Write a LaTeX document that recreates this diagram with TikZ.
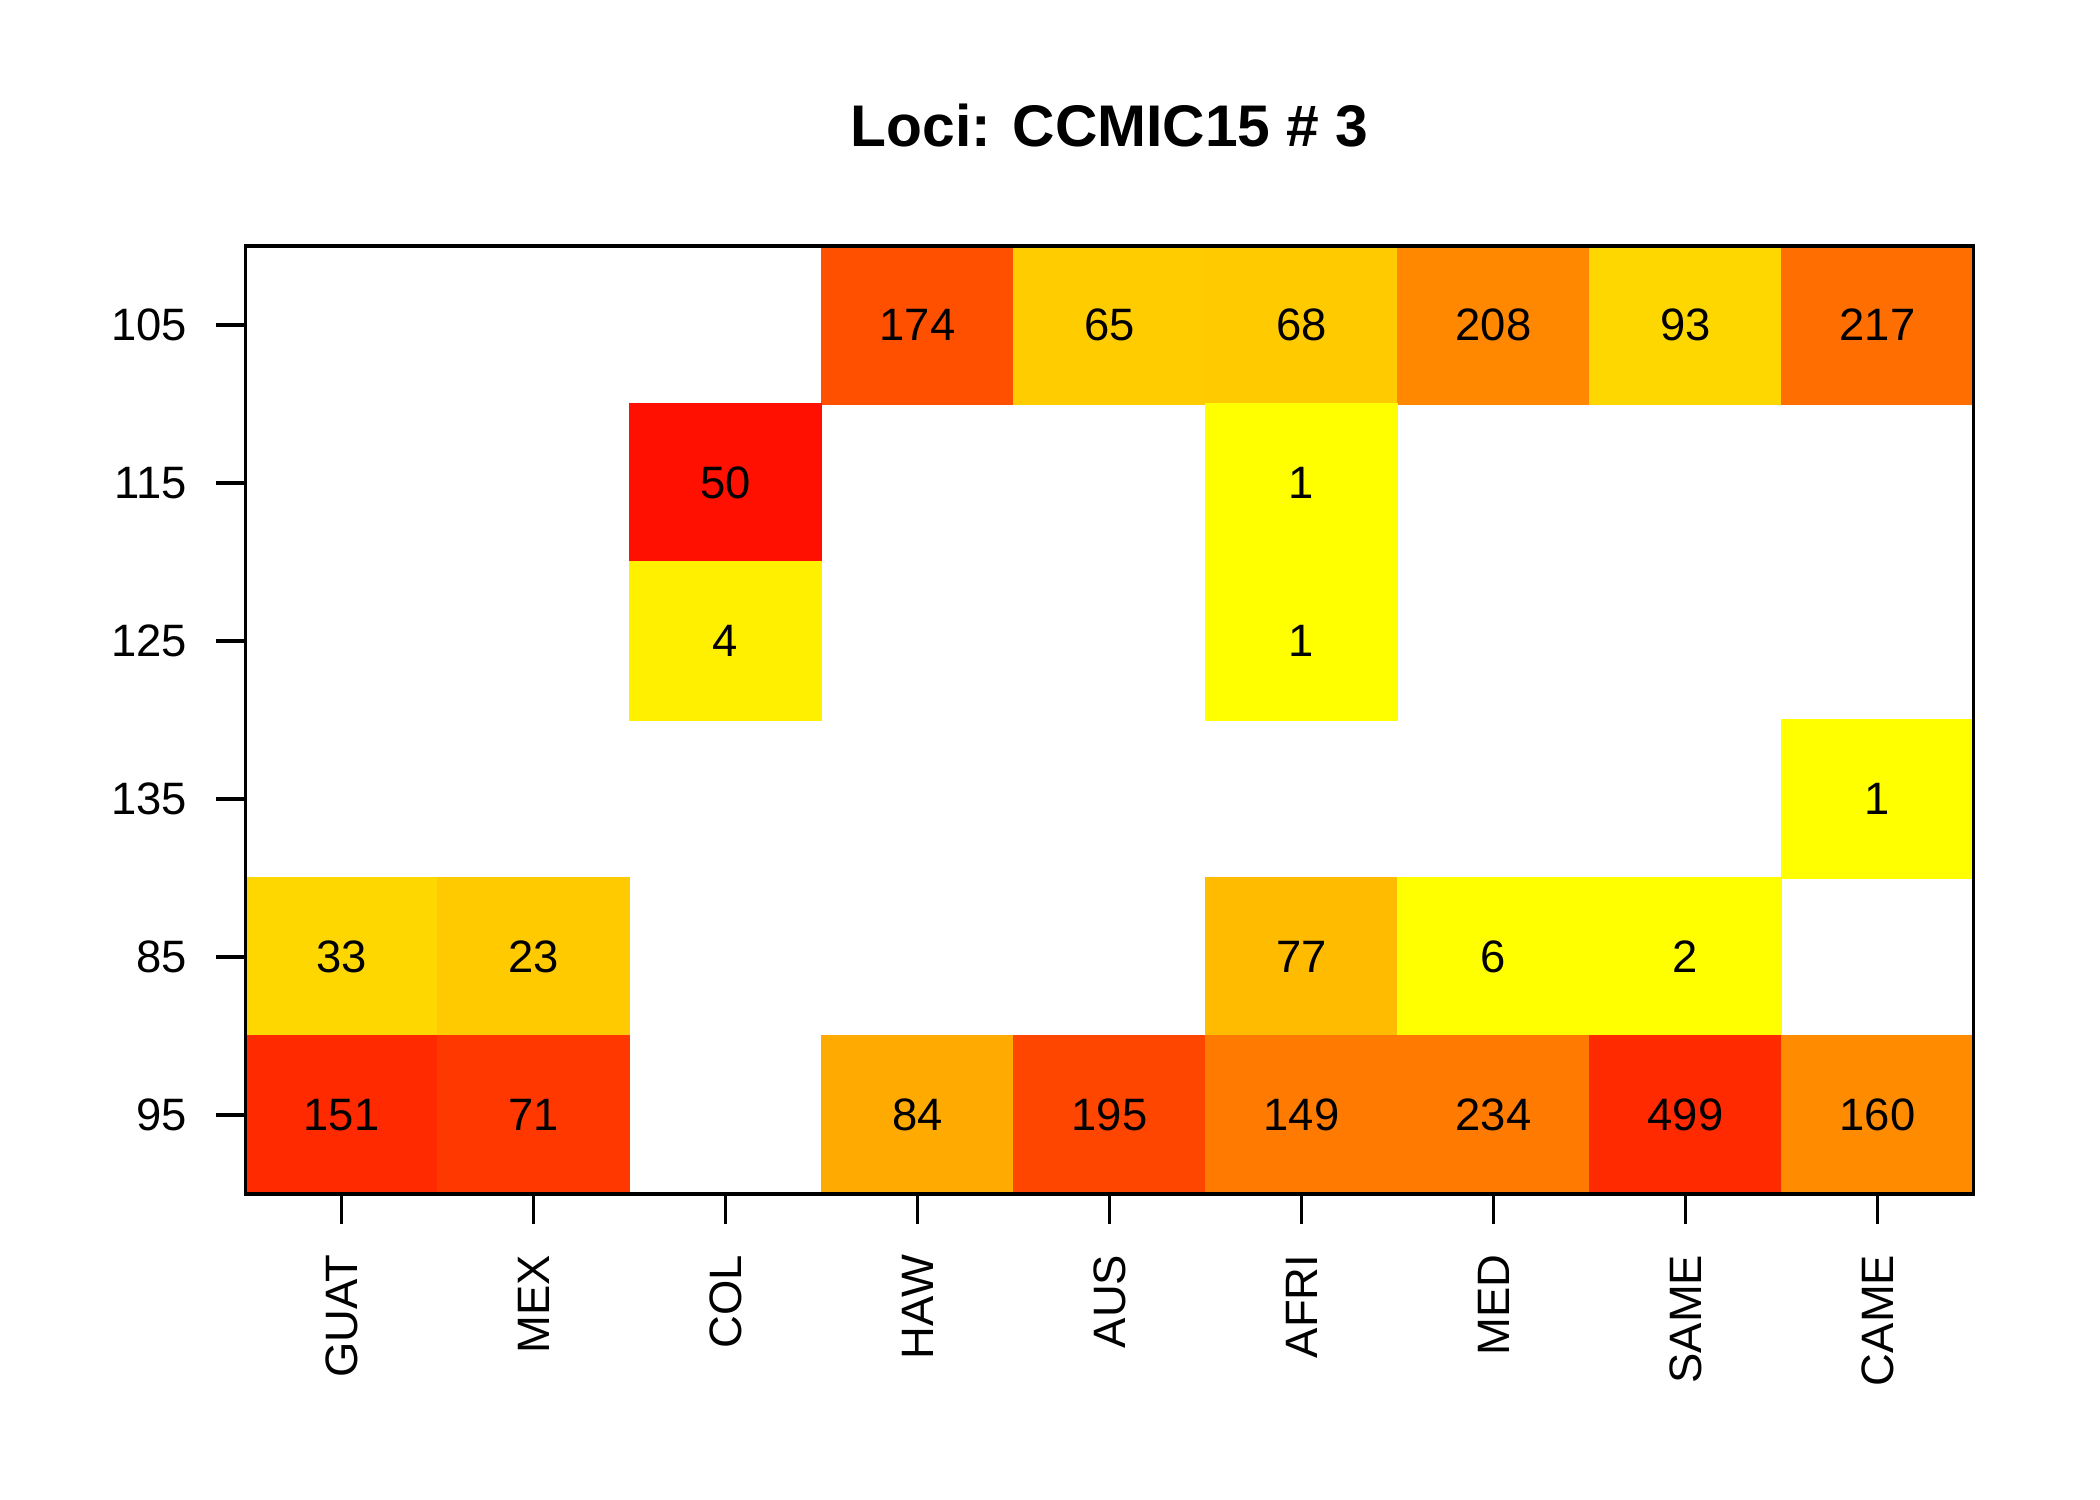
\documentclass[tikz,border=0pt]{standalone}
\usepackage{fontspec}
\setmainfont{Liberation Sans}
\usetikzlibrary{positioning}

\begin{document}
\begin{tikzpicture}[x=0.24pt,y=-0.24pt]
    \tikzstyle{cell}=[inner sep=0,minimum width=46.08pt,minimum height=37.92pt,line width=0.4pt,font=\fontsize{10.9}{13}\selectfont]
    \tikzstyle{lab}=[inner sep=0,font=\fontsize{10.9}{13}\selectfont]
    \tikzstyle{tick}=[line width=0.75pt]
    \useasboundingbox (0,0) rectangle (2100,1500);
    % cells: column/row/green/count
    \foreach \c/\r/\g/\v in {4/1/80/174,5/1/204/65,6/1/202/68,7/1/136/208,8/1/215/93,9/1/110/217,
        3/2/16/50,6/2/255/1,3/3/240/4,6/3/255/1,9/4/255/1,
        1/5/215/33,2/5/202/23,6/5/187/77,7/5/255/6,8/5/255/2,
        1/6/42/151,2/6/56/71,4/6/170/84,5/6/70/195,6/6/122/149,7/6/122/234,8/6/42/499,9/6/140/160} {
      \definecolor{cc}{RGB}{255,\g,0}
      \node[cell,fill=cc,draw=cc] (cell-\c-\r) at ({245.6+192*(\c-0.5)},{246+158*(\r-0.5)}) {\v};
    }
    \node[draw,line width=0.75pt,inner sep=0,minimum width=414.72pt,minimum height=227.52pt] (frame) at (1109.6,720) {};
    \node[font=\fontsize{14.1}{17}\selectfont\bfseries,anchor=base] (title) at (1109.6,147) {Loci: CCMIC15 \# 3};
    % y axis
    \foreach \r/\t in {1/105,2/115,3/125,4/135,5/85,6/95} {
      \node[lab,anchor=east] (yl-\r) at (188,{246+158*(\r-0.5)}) {\t};
      \coordinate (yt-\r) at (216,{246+158*(\r-0.5)});
      \draw[tick] (yt-\r) -- (yt-\r -| frame.west);
    }
    % x axis
    \foreach \c/\t in {1/GUAT,2/MEX,3/COL,4/HAW,5/AUS,6/AFRI,7/MED,8/SAME,9/CAME} {
      \node[lab,rotate=90,anchor=east] (xl-\c) at ({245.6+192*(\c-0.5)},1254) {\t};
      \coordinate (xt-\c) at ({245.6+192*(\c-0.5)},1224);
      \draw[tick] (xt-\c) -- (xt-\c |- frame.south);
    }
\end{tikzpicture}
\end{document}
